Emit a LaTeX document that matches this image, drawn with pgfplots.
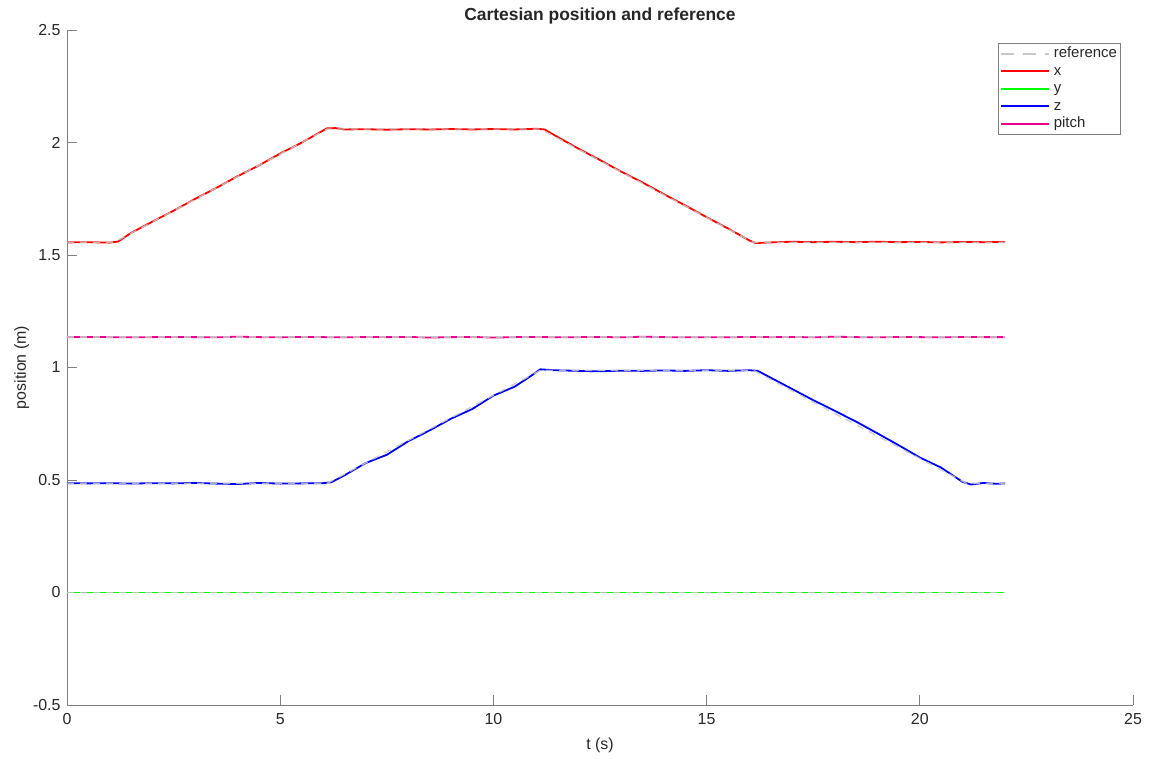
\documentclass[border=0pt]{standalone}
\usepackage{pgfplots}
\pgfplotsset{compat=1.18}
\usepackage{fontspec}
\setmainfont{Liberation Sans}
\definecolor{axgray}{rgb}{0.5,0.5,0.5}
\definecolor{txt}{rgb}{0.15,0.15,0.15}
\definecolor{refgray}{rgb}{0.78,0.78,0.78}
\begin{document}
\begin{tikzpicture}
\begin{axis}[
  scale only axis, width=1066bp, height=675bp,
  xmin=0, xmax=25, ymin=-0.5, ymax=2.5,
  axis x line=bottom, axis y line=left,
  axis line style={-, draw=axgray, line width=0.8bp},
  xtick={0,5,...,25}, ytick={-0.5,0,0.5,1,1.5,2,2.5},
  tick align=inside, major tick length=10bp,
  tick style={draw=axgray, line width=0.8bp},
  tick label style={font=\fontsize{16}{18}\selectfont, text=txt},
  xticklabel style={yshift=-5bp},
  yticklabel style={xshift=-3bp},
  /pgf/number format/assume math mode=true,
  /pgf/number format/.cd, fixed, precision=1, /pgfplots/.cd,
  title={\bfseries Cartesian position and reference},
  title style={font=\fontsize{17.5}{19}\selectfont, text=txt, yshift=-4bp},
  xlabel={t (s)}, ylabel={position (m)},
  label style={font=\fontsize{16}{18}\selectfont, text=txt},
  xlabel style={yshift=-6bp}, ylabel style={yshift=-3bp},
  legend style={at={(rel axis cs:0.988,0.981)}, anchor=north east, draw=axgray, line width=0.6bp, font=\fontsize{15}{15}\selectfont, text=txt, inner sep=2bp, row sep=0bp, fill=white, nodes={inner sep=1bp, text height=11.5bp, text depth=4bp}, /tikz/every odd column/.append style={column sep=3bp}},
  legend cell align=left,
  legend image code/.code={\draw[#1] (0cm,0cm) -- (1.7cm,0cm);},
  clip=false,
]
\coordinate (ll) at (rel axis cs:0,0);
\coordinate (ur) at (rel axis cs:1,1);
\addlegendimage{refgray, line width=1.6bp, dash pattern=on 13bp off 9bp}
\addlegendentry{reference}
% x
\addplot[red, line width=1.8bp] coordinates {
(0,1.556) (0.5,1.557) (1.0,1.555) (1.2,1.560) (1.5,1.598) (2,1.648) (2.5,1.697) (3,1.749) (3.5,1.798) (4,1.850) (4.5,1.898) (5,1.951) (5.5,1.999) (5.9,2.042) (6.1,2.063) (6.3,2.064) (6.5,2.058) (7,2.059) (7.5,2.057) (8,2.059) (8.5,2.058) (9,2.060) (9.5,2.058) (10,2.060) (10.5,2.058) (11,2.061) (11.2,2.058) (11.5,2.025) (12,1.972) (12.5,1.922) (13,1.870) (13.5,1.822) (14,1.770) (14.5,1.720) (15,1.668) (15.5,1.618) (16,1.565) (16.15,1.553) (16.5,1.556) (17,1.559) (17.5,1.557) (18,1.559) (18.5,1.557) (19,1.559) (19.5,1.557) (20,1.558) (20.5,1.556) (21,1.558) (21.5,1.557) (22,1.558)};
\addlegendentry{x}
% y
\addplot[green, line width=1.8bp] coordinates {(0,0) (22,0)};
\addlegendentry{y}
% z
\addplot[blue, line width=1.8bp] coordinates {
(0,0.486) (0.5,0.485) (1,0.486) (1.5,0.484) (2,0.486) (2.5,0.485) (3,0.487) (3.5,0.484) (4,0.482) (4.5,0.487) (5,0.484) (5.5,0.485) (6,0.486) (6.2,0.490) (6.5,0.520) (7,0.575) (7.5,0.612) (8,0.672) (8.5,0.720) (9,0.772) (9.5,0.815) (10,0.875) (10.5,0.915) (10.9,0.965) (11.1,0.992) (11.4,0.988) (12,0.985) (12.5,0.983) (13,0.986) (13.5,0.985) (14,0.987) (14.5,0.985) (15,0.988) (15.5,0.985) (16,0.988) (16.2,0.985) (16.5,0.955) (17,0.905) (17.5,0.855) (18,0.808) (18.5,0.760) (19,0.708) (19.5,0.655) (20,0.600) (20.5,0.555) (21,0.492) (21.2,0.480) (21.5,0.487) (21.8,0.483) (22,0.485)};
\addlegendentry{z}
% pitch
\addplot[magenta, line width=1.8bp] coordinates {
(0,1.135) (0.5,1.136) (1,1.135) (1.5,1.134) (2,1.135) (2.5,1.136) (3,1.135) (3.5,1.134) (4,1.137) (4.5,1.135) (5,1.134) (5.5,1.136) (6,1.135) (6.5,1.134) (7,1.136) (7.5,1.135) (8,1.136) (8.5,1.133) (9,1.135) (9.5,1.136) (10,1.133) (10.5,1.135) (11,1.136) (11.5,1.134) (12,1.135) (12.5,1.136) (13,1.134) (13.5,1.137) (14,1.135) (14.5,1.134) (15,1.135) (15.5,1.134) (16,1.136) (16.5,1.135) (17,1.136) (17.5,1.134) (18,1.137) (18.5,1.135) (19,1.134) (19.5,1.136) (20,1.135) (20.5,1.134) (21,1.136) (21.5,1.135) (22,1.135)};
\addlegendentry{pitch}
% references
\addplot[refgray, opacity=0.85, line width=1.4bp, dash pattern=on 7bp off 6bp, forget plot] coordinates {
(0,1.556) (1.1,1.556) (6.1,2.06) (11.1,2.06) (16.1,1.556) (22,1.556)};
\addplot[refgray, opacity=0.85, line width=1.4bp, dash pattern=on 7bp off 6bp, forget plot] coordinates {(0,0) (22,0)};
\addplot[refgray, opacity=0.85, line width=1.4bp, dash pattern=on 7bp off 6bp, forget plot] coordinates {
(0,0.485) (6.1,0.485) (11.1,0.987) (16.1,0.987) (21.1,0.485) (22,0.485)};
\addplot[refgray, opacity=0.85, line width=1.4bp, dash pattern=on 7bp off 6bp, forget plot] coordinates {(0,1.135) (22,1.135)};
\end{axis}
\path (ll) ++(-67bp,-53bp) coordinate (bl);
\path (ur) ++(18bp,30bp) coordinate (tr);
\path (bl) rectangle (tr);
\end{tikzpicture}
\end{document}
